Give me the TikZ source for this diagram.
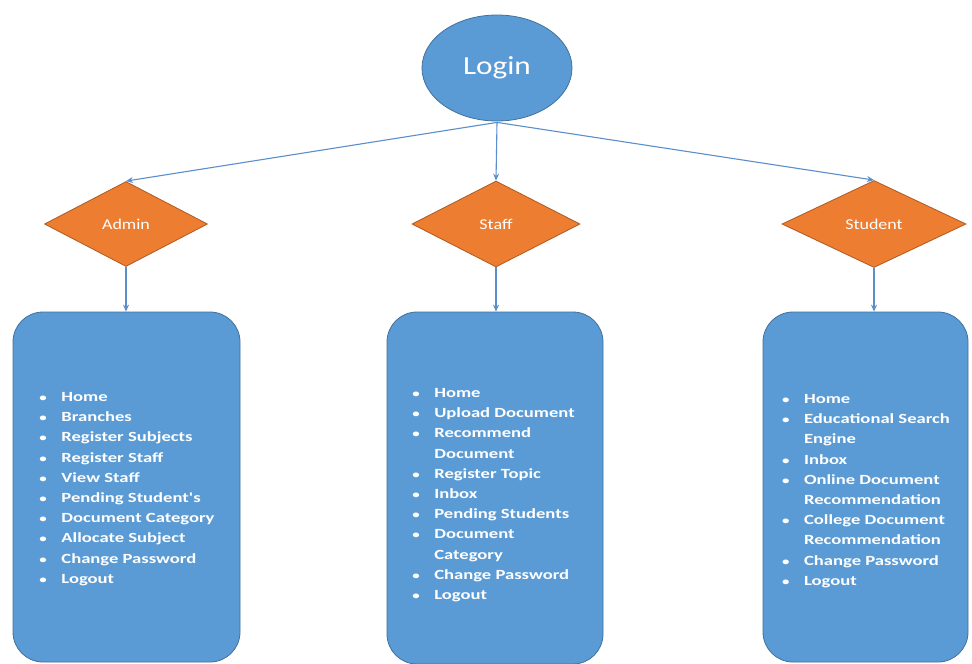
\documentclass[tikz,border=0pt]{standalone}
\usepackage{fontspec}
\setmainfont{Carlito}
\newfontfamily\boxfont[FakeStretch=1.33]{Carlito}
\newfontfamily\lblfont[FakeStretch=1.2]{Carlito}
\usetikzlibrary{shapes.geometric,arrows.meta}
\definecolor{obl}{HTML}{5B9BD5}
\definecolor{obld}{HTML}{41719C}
\definecolor{oor}{HTML}{ED7D31}
\definecolor{oord}{HTML}{AE5A21}
\definecolor{arr}{HTML}{5B8FCB}
\newcommand{\itm}[1]{\makebox[23pt][l]{\hspace*{1pt}\scalebox{0.8}{\textbullet}}#1\\}
\newcommand{\cnt}[1]{\hspace*{23pt}#1\\}
\begin{document}
\begin{tikzpicture}[x=1pt,y=-1pt,
  loginshape/.style={ellipse,fill=obl,draw=obld,line width=0.8pt,inner sep=0pt,
    minimum width=150pt,minimum height=106pt,text=white,
    font=\lblfont\fontsize{26}{30}\selectfont},
  rolebox/.style={diamond,fill=oor,draw=oord,line width=0.8pt,inner sep=0pt,
    text=white,font=\lblfont\fontsize{15}{18}\selectfont},
  listbox/.style={rectangle,rounded corners=30pt,fill=obl,draw=obld,line width=0.8pt,
    inner sep=0pt},
  listtext/.style={inner sep=0pt,text=white,align=left,
    font=\boxfont\bfseries\fontsize{14}{20.2}\selectfont},
  conn/.style={draw=arr,line width=1.1pt,-{Stealth[length=7pt,width=6pt]}}
]
\useasboundingbox (0,0) rectangle (972,664);
\fill[white] (0,0) rectangle (972,664);

\node[loginshape] (login) at (497,68) {Login};

\node[rolebox,minimum width=163pt,minimum height=85pt] (admin) at (126,224) {Admin};
\node[rolebox,minimum width=168pt,minimum height=86pt] (staff) at (496,224) {Staff};
\node[rolebox,minimum width=184pt,minimum height=87pt] (student) at (874,224) {Student};

\node[listbox,minimum width=227pt,minimum height=350pt] (adminbox) at (126.5,487) {};
\node[listbox,minimum width=216pt,minimum height=352pt] (staffbox) at (495,488) {};
\node[listbox,minimum width=205pt,minimum height=350pt] (studentbox) at (865.5,487) {};

\node[listtext] (admintext) at ([yshift=-11pt]adminbox.center) {%
\itm{Home}
\itm{Branches}
\itm{Register Subjects}
\itm{Register Staff}
\itm{View Staff}
\itm{Pending Student's}
\itm{Document Category}
\itm{Allocate Subject}
\itm{Change Password}
\itm{Logout}};

\node[listtext] (stafftext) at ([yshift=-16pt,xshift=-2pt]staffbox.center) {%
\itm{Home}
\itm{Upload Document}
\itm{Recommend}
\cnt{Document}
\itm{Register Topic}
\itm{Inbox}
\itm{Pending Students}
\itm{Document}
\cnt{Category}
\itm{Change Password}
\itm{Logout}};

\node[listtext] (studenttext) at ([yshift=-13pt]studentbox.center) {%
\itm{Home}
\itm{Educational Search}
\cnt{Engine}
\itm{Inbox}
\itm{Online Document}
\cnt{Recommendation}
\itm{College Document}
\cnt{Recommendation}
\itm{Change Password}
\itm{Logout}};

\coordinate (lb) at ([yshift=-1pt]login.south);
\draw[conn] (lb) -- (admin.north);
\draw[conn] (lb) -- (staff.north);
\draw[conn] (lb) -- (student.north);
\draw[conn] (admin.south) -- (admin.south |- adminbox.north);
\draw[conn] (staff.south) -- (staff.south |- staffbox.north);
\draw[conn] (student.south) -- (student.south |- studentbox.north);
\end{tikzpicture}
\end{document}
